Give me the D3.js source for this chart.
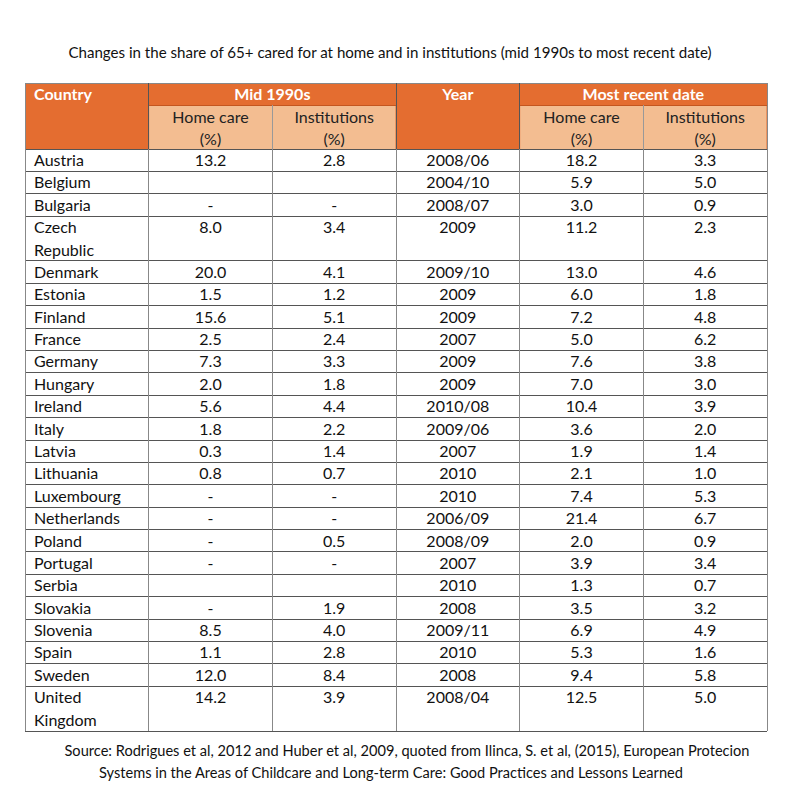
<!DOCTYPE html>
<html><head><meta charset="utf-8">
<script src="https://cdn.jsdelivr.net/npm/d3@7/dist/d3.min.js"></script>
<style>body{margin:0;background:#fff}svg{display:block}</style>
</head><body>
<script>
const title = "Changes in the share of 65+ cared for at home and in institutions (mid 1990s to most recent date)";
const sourceLines = ["Source: Rodrigues et al, 2012 and Huber et al, 2009, quoted from Ilinca, S. et al, (2015), European Protecion",
  "Systems in the Areas of Childcare and Long-term Care: Good Practices and Lessons Learned"];
const groupHeaders = ["Country", "Mid 1990s", "Year", "Most recent date"];
const subHeaders = ["Home care", "(%)", "Institutions", "(%)"];
const countries = ["Austria","Belgium","Bulgaria","Czech Republic","Denmark","Estonia","Finland","France","Germany","Hungary","Ireland","Italy","Latvia","Lithuania","Luxembourg","Netherlands","Poland","Portugal","Serbia","Slovakia","Slovenia","Spain","Sweden","United Kingdom"];
// null = blank cell, "-" = dash
const homeCare1990 = [13.2,null,"-",8.0,20.0,1.5,15.6,2.5,7.3,2.0,5.6,1.8,0.3,0.8,"-","-","-","-",null,"-",8.5,1.1,12.0,14.2];
const inst1990 =     [2.8,null,"-",3.4,4.1,1.2,5.1,2.4,3.3,1.8,4.4,2.2,1.4,0.7,"-","-",0.5,"-",null,1.9,4.0,2.8,8.4,3.9];
const years = ["2008/06","2004/10","2008/07","2009","2009/10","2009","2009","2007","2009","2009","2010/08","2009/06","2007","2010","2010","2006/09","2008/09","2007","2010","2008","2009/11","2010","2008","2008/04"];
const homeCareRecent = [18.2,5.9,3.0,11.2,13.0,6.0,7.2,5.0,7.6,7.0,10.4,3.6,1.9,2.1,7.4,21.4,2.0,3.9,1.3,3.5,6.9,5.3,9.4,12.5];
const instRecent =     [3.3,5.0,0.9,2.3,4.6,1.8,4.8,6.2,3.8,3.0,3.9,2.0,1.4,1.0,5.3,6.7,0.9,3.4,0.7,3.2,4.9,1.6,5.8,5.0];

const W = 800, H = 800;
const DARK = "#e46d30", LIGHT = "#f3bd91", LINE = "#555", VLINE = "#888";
const FONT = "Lato, 'Open Sans', sans-serif";
const fmt = v => v === null ? "" : (typeof v === "string" ? v : v.toFixed(1));

const svg = d3.select("body").append("svg").attr("width", W).attr("height", H);

const colIds = d3.range(6);
const x = d3.scaleBand().domain(colIds).range([25, 767]);
const left = i => x(i), right = i => x(i) + x.bandwidth(), mid = i => x(i) + x.bandwidth() / 2;

const rows = countries.map((c, i) => {
  const nameLines = (c.length > 12 && c.includes(" ")) ? c.split(" ") : [c];
  return {name: nameLines, cells: [fmt(homeCare1990[i]), fmt(inst1990[i]), years[i], fmt(homeCareRecent[i]), fmt(instRecent[i])], lines: nameLines.length};
});
let acc = 0;
rows.forEach(r => { r.start = acc; acc += r.lines; });
const totalLines = acc;
const y = d3.scaleLinear().domain([0, totalLines]).range([149, 731]);
const lineH = y(1) - y(0);

const headTop = 83, headMid = 105, headBot = 149;

// title
svg.append("text").attr("x", 390).attr("y", 58).attr("text-anchor", "middle")
  .attr("font-family", FONT).attr("font-size", 15.1).attr("fill", "#111").text(title);

// header fills
svg.append("rect").attr("x", left(0)).attr("y", headTop).attr("width", right(5) - left(0)).attr("height", headBot - headTop).attr("fill", DARK);
[1, 2, 4, 5].forEach(i => {
  svg.append("rect").attr("x", left(i) + (i === 1 || i === 4 ? 0.5 : 0)).attr("y", headMid).attr("width", x.bandwidth() - 0.5).attr("height", headBot - headMid).attr("fill", LIGHT);
});

// header text
const hdr = svg.append("g").attr("font-family", FONT).attr("font-size", 16);
hdr.append("text").attr("x", left(0) + 9).attr("y", headTop + 17).attr("font-weight", "bold").attr("fill", "#fff").text(groupHeaders[0]);
hdr.append("text").attr("x", right(1)).attr("y", headTop + 17).attr("text-anchor", "middle").attr("font-weight", "bold").attr("fill", "#fff").text(groupHeaders[1]);
hdr.append("text").attr("x", mid(3)).attr("y", headTop + 17).attr("text-anchor", "middle").attr("font-weight", "bold").attr("fill", "#fff").text(groupHeaders[2]);
hdr.append("text").attr("x", right(4)).attr("y", headTop + 17).attr("text-anchor", "middle").attr("font-weight", "bold").attr("fill", "#fff").text(groupHeaders[3]);
[[1, 0], [2, 2], [4, 0], [5, 2]].forEach(([c, k]) => {
  hdr.append("text").attr("x", mid(c)).attr("y", headMid + 17.5).attr("text-anchor", "middle").attr("fill", "#222").text(subHeaders[k]);
  hdr.append("text").attr("x", mid(c)).attr("y", headMid + 40).attr("text-anchor", "middle").attr("fill", "#222").text(subHeaders[k + 1]);
});

// body
const body = svg.append("g").attr("font-family", FONT).attr("font-size", 16).attr("fill", "#111");
const rg = body.selectAll("g.row").data(rows).join("g").attr("class", "row");
rg.each(function (r) {
  const g = d3.select(this);
  const top = y(r.start);
  r.name.forEach((t, k) => g.append("text").attr("x", left(0) + 9).attr("y", top + 17 + k * lineH).text(t));
  r.cells.forEach((t, k) => g.append("text").attr("x", mid(k + 1)).attr("y", top + 17).attr("text-anchor", "middle").text(t));
});

// grid lines
const grid = svg.append("g").attr("shape-rendering", "crispEdges");
rows.forEach(r => {
  grid.append("line").attr("x1", left(0)).attr("x2", right(5)).attr("y1", y(r.start + r.lines)).attr("y2", y(r.start + r.lines)).attr("stroke", LINE);
});
grid.append("line").attr("x1", left(0)).attr("x2", right(5)).attr("y1", headBot).attr("y2", headBot).attr("stroke", LINE);
grid.append("line").attr("x1", left(0)).attr("x2", right(5)).attr("y1", headTop).attr("y2", headTop).attr("stroke", VLINE);
[[1, 2], [4, 5]].forEach(([a, b]) => grid.append("line").attr("x1", left(a)).attr("x2", right(b)).attr("y1", headMid).attr("y2", headMid).attr("stroke", "#c4561f"));
// verticals
colIds.concat([6]).forEach(i => {
  const xx = i === 6 ? right(5) : left(i);
  grid.append("line").attr("x1", xx).attr("x2", xx).attr("y1", headBot).attr("y2", y(totalLines)).attr("stroke", VLINE);
});
[0, 1, 3, 4, 6].forEach(i => {
  const xx = i === 6 ? right(5) : left(i);
  grid.append("line").attr("x1", xx).attr("x2", xx).attr("y1", headTop).attr("y2", headBot).attr("stroke", i === 0 || i === 6 ? VLINE : "#555");
});
[2, 5].forEach(i => grid.append("line").attr("x1", left(i)).attr("x2", left(i)).attr("y1", headMid).attr("y2", headBot).attr("stroke", "#999"));

// source
const src = svg.append("g").attr("font-family", FONT).attr("font-size", 14.6).attr("fill", "#111").attr("text-anchor", "middle");
src.append("text").attr("x", 407).attr("y", 756).text(sourceLines[0]);
src.append("text").attr("x", 391).attr("y", 778).text(sourceLines[1]);
</script>
</body></html>
